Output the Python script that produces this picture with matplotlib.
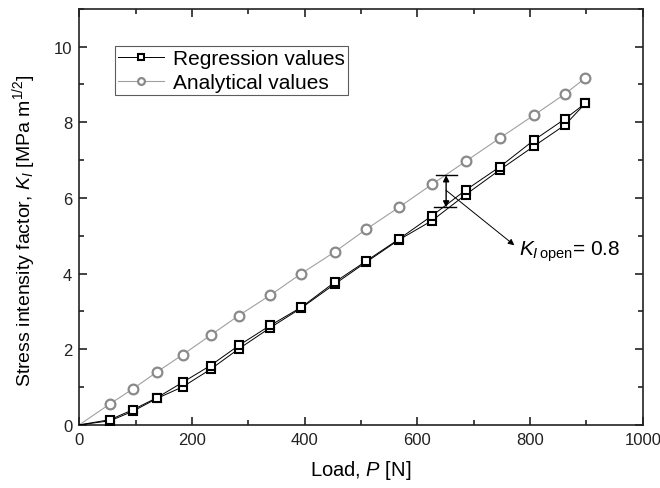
import matplotlib
matplotlib.use("Agg")
import matplotlib.pyplot as plt
from matplotlib.ticker import MultipleLocator

plt.rcParams["font.family"] = ["Liberation Sans", "DejaVu Sans"]
plt.rcParams["mathtext.fontset"] = "custom"
plt.rcParams["mathtext.rm"] = "Liberation Sans"
plt.rcParams["mathtext.it"] = "Liberation Sans:italic"

# load points (N), origin included
load = [0, 55, 95, 138, 184, 233, 283, 339, 394, 453, 509, 567, 626, 686,
        747, 807, 862, 898]
# two regression runs
reg_a = [0, 0.14, 0.40, 0.72, 1.13, 1.57, 2.10, 2.63, 3.11, 3.77, 4.33, 4.91,
         5.53, 6.21, 6.83, 7.53, 8.09, 8.50]
reg_b = [0, 0.11, 0.36, 0.70, 1.01, 1.47, 2.01, 2.57, 3.09, 3.72, 4.30, 4.89,
         5.40, 6.09, 6.75, 7.37, 7.93, 8.50]
analytical = [0, 0.56, 0.95, 1.40, 1.86, 2.37, 2.89, 3.43, 4.00, 4.57, 5.17,
              5.75, 6.36, 6.97, 7.59, 8.19, 8.75, 9.17]

# K_open bracket
gap_x = 651
gap_top = 6.60
gap_bot = 5.75

fig = plt.figure(figsize=(6.6, 4.89), dpi=100)
ax = fig.add_axes([0.12, 0.129, 0.854, 0.851])

mk = range(1, len(load))
ax.plot(load, analytical, color="#a0a0a0", lw=0.8, marker="o", ms=7,
        mfc="white", mec="#8a8a8a", mew=1.6, markevery=mk,
        label="Analytical values", zorder=2)
ax.plot(load, reg_b, color="black", lw=0.7, marker="s", ms=5.8,
        mfc="white", mec="black", mew=1.5, markevery=mk, zorder=3)
ax.plot(load, reg_a, color="black", lw=0.7, marker="s", ms=5.8,
        mfc="white", mec="black", mew=1.5, markevery=mk,
        label="Regression values", zorder=3)

# bracket showing the opening stress intensity
ax.plot([gap_x - 18, gap_x + 20], [gap_top, gap_top], color="black", lw=1)
ax.plot([gap_x - 22, gap_x + 18], [gap_bot, gap_bot], color="black", lw=1)
ax.annotate("", xy=(gap_x, gap_top), xytext=(gap_x, gap_bot),
            arrowprops=dict(arrowstyle="<|-|>", color="black", lw=1,
                            mutation_scale=9, shrinkA=0, shrinkB=0))
ax.annotate("", xy=(772, 4.75), xytext=(gap_x, 6.2),
            arrowprops=dict(arrowstyle="-|>", color="black", lw=0.7,
                            mutation_scale=9, shrinkA=0, shrinkB=0))
ax.text(780, 4.6, r"$K_{\mathit{I}\,\mathrm{open}}$= 0.8", fontsize=15,
        va="center", ha="left")

ax.set_xlim(0, 1000)
ax.set_ylim(0, 11)
ax.xaxis.set_major_locator(MultipleLocator(200))
ax.xaxis.set_minor_locator(MultipleLocator(100))
ax.yaxis.set_major_locator(MultipleLocator(2))
ax.yaxis.set_minor_locator(MultipleLocator(1))
ax.tick_params(which="both", direction="in", top=True, right=True,
               labelsize=12, colors="#222222", width=1.2)
ax.tick_params(which="major", length=6, pad=5)
ax.tick_params(which="minor", length=3.5)
for s in ax.spines.values():
    s.set_linewidth(1.2)
    s.set_color("#222222")

ax.set_xlabel(r"Load, $\mathit{P}$ [N]", fontsize=14.5, labelpad=8)
ax.set_ylabel(r"Stress intensity factor, $\mathit{K}_{\mathit{I}}$ [MPa m$^{1/2}$]",
              fontsize=14)
ax.yaxis.set_label_coords(-0.073, 0.47)

h, l = ax.get_legend_handles_labels()
leg = ax.legend(h[::-1], l[::-1], loc="upper left",
                bbox_to_anchor=(0.064, 0.911), fontsize=15, frameon=True,
                fancybox=False, edgecolor="#333333", handlelength=2.2,
                borderpad=0.15, labelspacing=0.25, handletextpad=0.4,
                borderaxespad=0, markerscale=0.7)
leg.get_frame().set_linewidth(0.8)

fig.savefig("out.png", dpi=100)
